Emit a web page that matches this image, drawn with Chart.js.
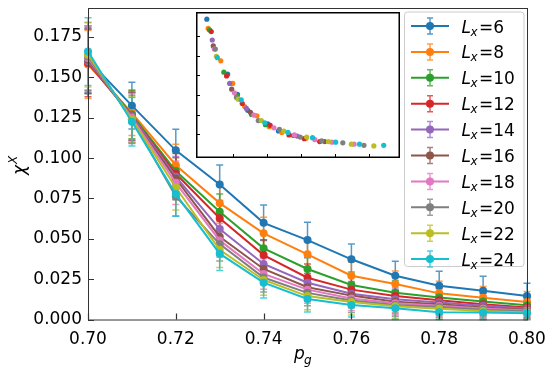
<!DOCTYPE html>
<html>
<head>
<meta charset="utf-8">
<script src="https://cdn.jsdelivr.net/npm/chart.js@4.4.1/dist/chart.umd.min.js"></script>
<style>
  body { margin: 0; background: #fff; }
  #wrap { position: relative; width: 556px; height: 379px; }
  #mycanvas { position: absolute; left: 0; top: 0; }
  #inset { position: absolute; left: 196px; top: 12px; background: #fff; }
</style>
</head>
<body>
<div id="wrap">
  <canvas id="mycanvas" width="556" height="379"></canvas>
  <canvas id="inset" width="204" height="146"></canvas>
</div>
<script>
// p_g values and system sizes
var pg = [0.70, 0.71, 0.72, 0.73, 0.74, 0.75, 0.76, 0.77, 0.78, 0.79, 0.80];
var sizes = [6, 8, 10, 12, 14, 16, 18, 20, 22, 24];
var colors = ['#1f77b4', '#ff7f0e', '#2ca02c', '#d62728', '#9467bd',
              '#8c564b', '#e377c2', '#7f7f7f', '#bcbd22', '#17becf'];

var xTicks = [0.70, 0.72, 0.74, 0.76, 0.78, 0.80];
var yTicks = [0, 0.025, 0.05, 0.075, 0.1, 0.125, 0.15, 0.175];

// chi^X per L
var chiL6  = [0.161, 0.1325, 0.1048, 0.0837, 0.0599, 0.0492, 0.0373, 0.0271, 0.0209, 0.0178, 0.0145];
var chiL8  = [0.158, 0.1280, 0.0956, 0.0721, 0.0534, 0.0404, 0.0271, 0.0220, 0.0162, 0.0135, 0.0108];
var chiL10 = [0.160, 0.1270, 0.0920, 0.0667, 0.0441, 0.0313, 0.0214, 0.0166, 0.0137, 0.0112, 0.0088];
var chiL12 = [0.159, 0.1260, 0.0903, 0.0628, 0.0399, 0.0259, 0.0185, 0.0145, 0.0120, 0.0095, 0.0075];
var chiL14 = [0.160, 0.1260, 0.0885, 0.0560, 0.0344, 0.0228, 0.0160, 0.0125, 0.0105, 0.0085, 0.0068];
var chiL16 = [0.161, 0.1250, 0.0872, 0.0513, 0.0313, 0.0200, 0.0148, 0.0110, 0.0095, 0.0075, 0.0060];
var chiL18 = [0.162, 0.1250, 0.0847, 0.0490, 0.0282, 0.0185, 0.0130, 0.0100, 0.0085, 0.0068, 0.0055];
var chiL20 = [0.163, 0.1240, 0.0762, 0.0467, 0.0260, 0.0165, 0.0118, 0.0090, 0.0077, 0.0060, 0.0050];
var chiL22 = [0.164, 0.1240, 0.0818, 0.0432, 0.0245, 0.0145, 0.0108, 0.0082, 0.0066, 0.0052, 0.0044];
var chiL24 = [0.166, 0.1225, 0.0777, 0.0408, 0.0228, 0.0127, 0.0090, 0.0069, 0.0045, 0.0044, 0.0038];

// error bars
var errL6  = [0.020, 0.0145, 0.0130, 0.0120, 0.0110, 0.0110, 0.0095, 0.0090, 0.0090, 0.0090, 0.0080];
var errL8  = [0.021, 0.0140, 0.0130, 0.0115, 0.0100, 0.0095, 0.0085, 0.0080, 0.0075, 0.0070, 0.0065];
var errL10 = [0.020, 0.0150, 0.0125, 0.0110, 0.0095, 0.0090, 0.0080, 0.0075, 0.0070, 0.0065, 0.0060];
var errL12 = [0.021, 0.0150, 0.0125, 0.0110, 0.0095, 0.0085, 0.0080, 0.0075, 0.0070, 0.0065, 0.0060];
var errL14 = [0.020, 0.0150, 0.0125, 0.0105, 0.0095, 0.0085, 0.0075, 0.0070, 0.0065, 0.0060, 0.0055];
var errL16 = [0.021, 0.0155, 0.0130, 0.0105, 0.0095, 0.0085, 0.0075, 0.0070, 0.0065, 0.0060, 0.0055];
var errL18 = [0.020, 0.0150, 0.0135, 0.0105, 0.0095, 0.0085, 0.0075, 0.0070, 0.0065, 0.0060, 0.0055];
var errL20 = [0.021, 0.0150, 0.0120, 0.0105, 0.0090, 0.0080, 0.0075, 0.0070, 0.0065, 0.0060, 0.0055];
var errL22 = [0.020, 0.0140, 0.0140, 0.0110, 0.0095, 0.0085, 0.0080, 0.0075, 0.0065, 0.0060, 0.0055];
var errL24 = [0.021, 0.0150, 0.0137, 0.0105, 0.0095, 0.0080, 0.0075, 0.0070, 0.0060, 0.0055, 0.0050];

// inset (scaling collapse), arbitrary units
var inXL6  = [0.24, 0.85, 1.14, 1.44, 2.03, 2.34];
var inYL6  = [6.86, 4.06, 3.04, 2.22, 1.54, 1.17];
var inXL8  = [0.28, 0.65, 1.00, 1.35, 1.71, 2.07, 2.44, 3.15];
var inYL8  = [6.39, 4.74, 3.59, 2.41, 1.94, 1.39, 1.10, 0.80];
var inXL10 = [0.32, 0.74, 1.13, 1.55, 1.96, 2.78];
var inYL10 = [6.31, 4.16, 2.96, 2.01, 1.49, 0.94];
var inXL12 = [0.37, 0.82, 1.28, 2.10, 2.65, 3.10, 3.55];
var inYL12 = [6.23, 3.97, 2.57, 1.46, 0.97, 0.78, 0.63];
var inXL14 = [0.40, 0.91, 1.40, 2.89];
var inYL14 = [5.80, 3.59, 2.32, 0.91];
var inXL16 = [0.43, 0.97, 1.52, 3.70];
var inYL16 = [5.50, 3.30, 2.12, 0.63];
var inXL18 = [0.46, 1.05, 1.62, 2.21, 2.81, 3.41, 3.91, 4.56];
var inYL18 = [5.34, 3.11, 1.98, 1.33, 0.97, 0.73, 0.60, 0.50];
var inXL20 = [0.49, 1.11, 1.75, 2.37, 2.98, 3.61, 4.23, 4.85];
var inYL20 = [5.34, 2.88, 1.70, 1.25, 0.86, 0.67, 0.57, 0.44];
var inXL22 = [0.52, 1.16, 1.84, 2.50, 3.17, 3.81, 4.48, 5.14];
var inYL22 = [4.97, 2.79, 1.70, 1.17, 0.86, 0.63, 0.50, 0.41];
var inXL24 = [0.55, 1.25, 1.94, 2.62, 3.34, 4.02, 4.72, 5.43];
var inYL24 = [4.90, 2.75, 1.59, 1.10, 0.83, 0.60, 0.50, 0.44];
var inXTicks = [1, 2, 3, 4, 5];
var inYTicks = [1, 2, 3, 4, 5, 6];

var chiSeries = [chiL6, chiL8, chiL10, chiL12, chiL14, chiL16, chiL18, chiL20, chiL22, chiL24];
var errSeries = [errL6, errL8, errL10, errL12, errL14, errL16, errL18, errL20, errL22, errL24];
var inXSeries = [inXL6, inXL8, inXL10, inXL12, inXL14, inXL16, inXL18, inXL20, inXL22, inXL24];
var inYSeries = [inYL6, inYL8, inYL10, inYL12, inYL14, inYL16, inYL18, inYL20, inYL22, inYL24];

function withAlpha(hex, a) {
	var r = parseInt(hex.substr(1, 2), 16), g = parseInt(hex.substr(3, 2), 16), b = parseInt(hex.substr(5, 2), 16);
	return 'rgba(' + r + ',' + g + ',' + b + ',' + a + ')';
}

var FONT = "'DejaVu Sans', sans-serif";

// error bars under the lines
var errorBars = {
	id: 'errorBars',
	beforeDatasetsDraw: function(chart) {
		var ctx = chart.ctx, xs = chart.scales.x, ys = chart.scales.y;
		ctx.save();
		ctx.lineWidth = 1.5;
		for (var s = 0; s < chiSeries.length; s++) {
			ctx.strokeStyle = withAlpha(colors[s], 0.75);
			for (var i = 0; i < pg.length; i++) {
				var px = xs.getPixelForValue(pg[i]);
				var top = ys.getPixelForValue(chiSeries[s][i] + errSeries[s][i]);
				var bot = ys.getPixelForValue(Math.max(0, chiSeries[s][i] - errSeries[s][i]));
				ctx.beginPath();
				ctx.moveTo(px, top); ctx.lineTo(px, bot);
				ctx.moveTo(px - 3.5, top); ctx.lineTo(px + 3.5, top);
				ctx.moveTo(px - 3.5, bot); ctx.lineTo(px + 3.5, bot);
				ctx.stroke();
			}
		}
		ctx.restore();
	}
};

// frame, inward ticks, axis titles, legend
var decor = {
	id: 'decor',
	afterDraw: function(chart) {
		var ctx = chart.ctx, a = chart.chartArea, xs = chart.scales.x, ys = chart.scales.y;
		ctx.save();
		ctx.strokeStyle = '#333';
		ctx.lineWidth = 1;
		ctx.strokeRect(a.left + 0.5, a.top + 0.5, a.right - a.left, a.bottom - a.top);
		ctx.lineWidth = 1.2;
		ctx.beginPath();
		yTicks.forEach(function(v) {
			var y = Math.round(ys.getPixelForValue(v)) + 0.5;
			ctx.moveTo(a.left, y); ctx.lineTo(a.left + 6, y);
		});
		xTicks.forEach(function(v) {
			var x = Math.round(xs.getPixelForValue(v)) + 0.5;
			ctx.moveTo(x, a.bottom); ctx.lineTo(x, a.bottom - 6);
		});
		ctx.stroke();

		// axis titles
		ctx.fillStyle = '#000';
		ctx.textAlign = 'left';
		ctx.textBaseline = 'alphabetic';
		ctx.font = 'italic 17px ' + FONT;
		ctx.fillText('p', 294, 359);
		ctx.font = 'italic 12px ' + FONT;
		ctx.fillText('g', 304, 364);

		ctx.save();
		ctx.translate(25, 165.5);
		ctx.rotate(-Math.PI / 2);
		ctx.font = 'italic 17px ' + FONT;
		ctx.fillText('\u03c7', -9.5, 0);
		ctx.font = 'italic 12px ' + FONT;
		ctx.fillText('X', 1.5, -8);
		ctx.restore();

		// legend
		var lx = 404.5, ly = 12, lw = 119.5, lh = 254.5;
		ctx.beginPath();
		ctx.roundRect(lx, ly, lw, lh, 3);
		ctx.fillStyle = 'rgba(255,255,255,0.8)';
		ctx.fill();
		ctx.strokeStyle = '#ccc';
		ctx.lineWidth = 1;
		ctx.stroke();
		for (var i = 0; i < sizes.length; i++) {
			var cy = 26 + 25.9 * i;
			ctx.strokeStyle = colors[i];
			ctx.lineWidth = 2;
			ctx.beginPath();
			ctx.moveTo(411, cy); ctx.lineTo(449, cy);
			ctx.stroke();
			ctx.strokeStyle = withAlpha(colors[i], 0.75);
			ctx.lineWidth = 1.5;
			ctx.beginPath();
			ctx.moveTo(430, cy - 8); ctx.lineTo(430, cy + 8);
			ctx.moveTo(427, cy - 8); ctx.lineTo(433, cy - 8);
			ctx.moveTo(427, cy + 8); ctx.lineTo(433, cy + 8);
			ctx.stroke();
			ctx.fillStyle = colors[i];
			ctx.beginPath();
			ctx.arc(430, cy, 4, 0, Math.PI * 2);
			ctx.fill();

			ctx.fillStyle = '#000';
			ctx.font = 'italic 17px ' + FONT;
			ctx.fillText('L', 461.5, cy + 6.5);
			ctx.font = 'italic 12px ' + FONT;
			ctx.fillText('x', 470.5, cy + 9.5);
			ctx.font = '17px ' + FONT;
			ctx.fillText('=' + sizes[i], 479, cy + 6.5);
		}
		ctx.restore();
	}
};

var datasets = [];
for (var s = 0; s < sizes.length; s++) {
	var pts = [];
	for (var i = 0; i < pg.length; i++) pts.push({x: pg[i], y: chiSeries[s][i]});
	datasets.push({
		label: 'L_x=' + sizes[s],
		data: pts,
		borderColor: colors[s],
		backgroundColor: colors[s],
		borderWidth: 2,
		pointRadius: 4,
		pointBorderWidth: 0,
		tension: 0,
		clip: false,
		order: sizes.length - s
	});
}

function noPad(sc) {
	sc.paddingTop = 0; sc.paddingBottom = 0; sc.paddingLeft = 0; sc.paddingRight = 0;
}

var ctx = document.getElementById('mycanvas');
var mainChart = new Chart(ctx, {
	type: 'line',
	data: { datasets: datasets },
	options: {
		responsive: false,
		animation: false,
		devicePixelRatio: 1,
		layout: { padding: { left: 0, right: 29, top: 8, bottom: 0 } },
		plugins: { legend: { display: false }, tooltip: { enabled: false } },
		scales: {
			x: {
				type: 'linear', min: 0.70, max: 0.80,
				grid: { display: false, drawTicks: false },
				border: { display: false },
				afterBuildTicks: function(sc) { sc.ticks = xTicks.map(function(v) { return {value: v}; }); },
				afterFit: function(sc) { sc.height = 59.5; noPad(sc); },
				ticks: {
					padding: 10, color: '#000', maxRotation: 0,
					font: { family: FONT, size: 17 },
					callback: function(v) { return v.toFixed(2); }
				}
			},
			y: {
				type: 'linear', min: 0, max: 0.193,
				grid: { display: false, drawTicks: false },
				border: { display: false },
				afterBuildTicks: function(sc) { sc.ticks = yTicks.map(function(v) { return {value: v}; }); },
				afterFit: function(sc) { sc.width = 88; noPad(sc); },
				ticks: {
					padding: 6, color: '#000',
					font: { family: FONT, size: 17 },
					callback: function(v) { return v.toFixed(3); }
				}
			}
		}
	},
	plugins: [errorBars, decor]
});

// inset
var insetFrame = {
	id: 'insetFrame',
	afterDraw: function(chart) {
		var c = chart.ctx, xs = chart.scales.x, ys = chart.scales.y;
		var w = chart.width, h = chart.height;
		c.save();
		c.strokeStyle = '#000';
		c.lineWidth = 1.5;
		c.strokeRect(0.75, 0.75, w - 1.5, h - 1.5);
		c.lineWidth = 1;
		c.beginPath();
		inYTicks.forEach(function(v) {
			var y = Math.round(ys.getPixelForValue(v)) + 0.5;
			c.moveTo(0, y); c.lineTo(4, y);
		});
		inXTicks.forEach(function(v) {
			var x = Math.round(xs.getPixelForValue(v)) + 0.5;
			c.moveTo(x, h); c.lineTo(x, h - 4);
		});
		c.stroke();
		c.restore();
	}
};

var insetSets = [];
for (var s = 0; s < sizes.length; s++) {
	var pts = [];
	for (var i = 0; i < inXSeries[s].length; i++) pts.push({x: inXSeries[s][i], y: inYSeries[s][i]});
	insetSets.push({
		data: pts,
		backgroundColor: colors[s],
		pointRadius: 2.6,
		pointBorderWidth: 0,
		showLine: false,
		order: sizes.length - s
	});
}

var insetChart = new Chart(document.getElementById('inset'), {
	type: 'scatter',
	data: { datasets: insetSets },
	options: {
		responsive: false,
		animation: false,
		devicePixelRatio: 1,
		layout: { padding: 0 },
		plugins: { legend: { display: false }, tooltip: { enabled: false } },
		scales: {
			x: { type: 'linear', min: 0.04, max: 5.79, display: false },
			y: { type: 'linear', min: 0, max: 7.02, display: false }
		}
	},
	plugins: [insetFrame]
});
</script>
</body>
</html>
